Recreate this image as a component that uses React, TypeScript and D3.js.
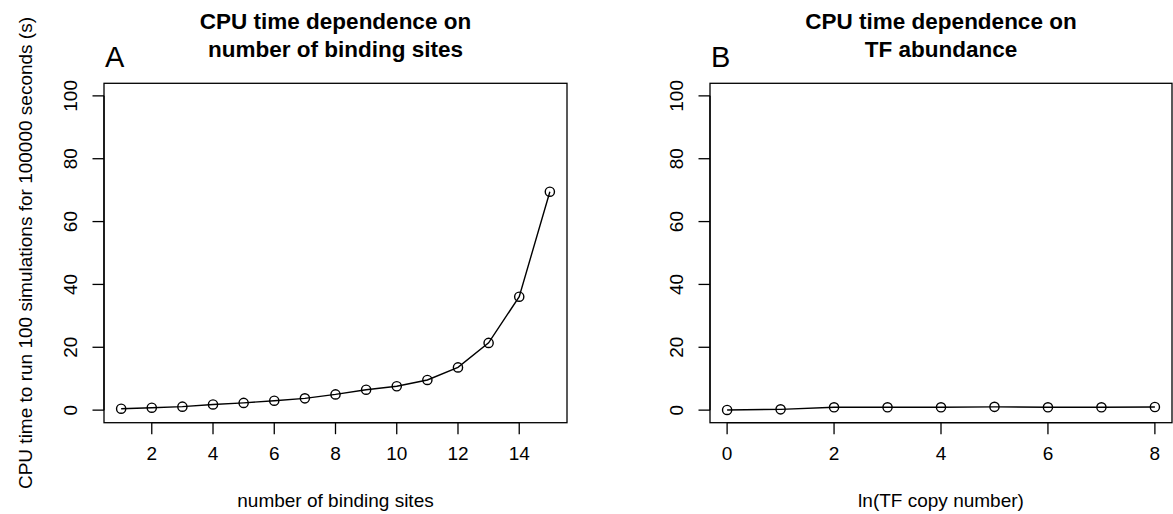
import React from "react";
import * as d3 from "d3";

const sitesX = [1, 2, 3, 4, 5, 6, 7, 8, 9, 10, 11, 12, 13, 14, 15];
const sitesY = [0.45, 0.77, 1.1, 1.8, 2.3, 3.0, 3.75, 5.0, 6.5, 7.6, 9.6, 13.6, 21.4, 36.1, 69.5];
const tfX = [0, 1, 2, 3, 4, 5, 6, 7, 8];
const tfY = [0.05, 0.25, 0.9, 0.9, 0.9, 1.05, 0.9, 0.9, 1.0];
const yTicks = [0, 20, 40, 60, 80, 100];
const xTicksA = [2, 4, 6, 8, 10, 12, 14];
const xTicksB = [0, 2, 4, 6, 8];

const FONT = "'Liberation Sans', Arial, Helvetica, sans-serif";
const W = 1173;
const H = 514;
const TOP = 83.3;
const BOTTOM = 422.7;

type PanelProps = {
  left: number;
  right: number;
  xs: number[];
  ys: number[];
  xDomain: [number, number];
  xTicks: number[];
  letter: string;
  title: string[];
  xlab: string;
  ylab?: string;
};

function Panel({ left, right, xs, ys, xDomain, xTicks, letter, title, xlab, ylab }: PanelProps) {
  const ext = (xDomain[1] - xDomain[0]) * 0.04;
  const x = d3.scaleLinear().domain([xDomain[0] - ext, xDomain[1] + ext]).range([left, right]);
  const y = d3.scaleLinear().domain([-4, 104]).range([BOTTOM, TOP]);
  const line = d3.line<number>().x((_, i) => x(xs[i])).y((d) => y(d));
  const cx = (left + right) / 2;
  const cy = (TOP + BOTTOM) / 2;
  return (
    <g>
      <rect x={left} y={TOP} width={right - left} height={BOTTOM - TOP} fill="none" stroke="#000" strokeWidth={1.3} />
      {/* x axis */}
      <line x1={x(xTicks[0])} x2={x(xTicks[xTicks.length - 1])} y1={BOTTOM} y2={BOTTOM} stroke="#000" strokeWidth={1.3} />
      {xTicks.map((t) => (
        <g key={"xt" + t}>
          <line x1={x(t)} x2={x(t)} y1={BOTTOM} y2={BOTTOM + 11.5} stroke="#000" strokeWidth={1.3} />
          <text x={x(t)} y={BOTTOM + 37} textAnchor="middle" fontSize={19} fontFamily={FONT} fill="#000">
            {t}
          </text>
        </g>
      ))}
      {/* y axis */}
      <line x1={left} x2={left} y1={y(0)} y2={y(100)} stroke="#000" strokeWidth={1.3} />
      {yTicks.map((t) => (
        <g key={"yt" + t}>
          <line x1={left - 11.5} x2={left} y1={y(t)} y2={y(t)} stroke="#000" strokeWidth={1.3} />
          <text
            transform={`translate(${left - 27},${y(t)}) rotate(-90)`}
            textAnchor="middle"
            fontSize={19}
            fontFamily={FONT}
            fill="#000"
          >
            {t}
          </text>
        </g>
      ))}
      <path d={line(ys) || ""} fill="none" stroke="#000" strokeWidth={1.4} />
      {ys.map((v, i) => (
        <circle key={"p" + i} cx={x(xs[i])} cy={y(v)} r={4.6} fill="none" stroke="#000" strokeWidth={1.4} />
      ))}
      <text x={left + 1} y={66.5} fontSize={29} fontFamily={FONT} fill="#000">
        {letter}
      </text>
      {title.map((s, i) => (
        <text key={"t" + i} x={cx} y={29 + i * 27.5} textAnchor="middle" fontSize={22.5} fontWeight="bold" fontFamily={FONT} fill="#000">
          {s}
        </text>
      ))}
      <text x={cx} y={507} textAnchor="middle" fontSize={19} fontFamily={FONT} fill="#000">
        {xlab}
      </text>
      {ylab && (
        <text
          transform={`translate(${left - 72},${cy}) rotate(-90)`}
          textAnchor="middle"
          fontSize={19}
          fontFamily={FONT}
          fill="#000"
        >
          {ylab}
        </text>
      )}
    </g>
  );
}

export default function App() {
  return (
    <svg width={W} height={H} style={{ position: "absolute", left: 0, top: 0, background: "#fff" }}>
      <rect x={0} y={0} width={W} height={H} fill="#fff" />
      <Panel
        left={104}
        right={567}
        xs={sitesX}
        ys={sitesY}
        xDomain={[1, 15]}
        xTicks={xTicksA}
        letter="A"
        title={["CPU time dependence on", "number of binding sites"]}
        xlab="number of binding sites"
        ylab="CPU time to run 100 simulations for 100000 seconds (s)"
      />
      <Panel
        left={710}
        right={1172}
        xs={tfX}
        ys={tfY}
        xDomain={[0, 8]}
        xTicks={xTicksB}
        letter="B"
        title={["CPU time dependence on", "TF abundance"]}
        xlab="ln(TF copy number)"
      />
    </svg>
  );
}
